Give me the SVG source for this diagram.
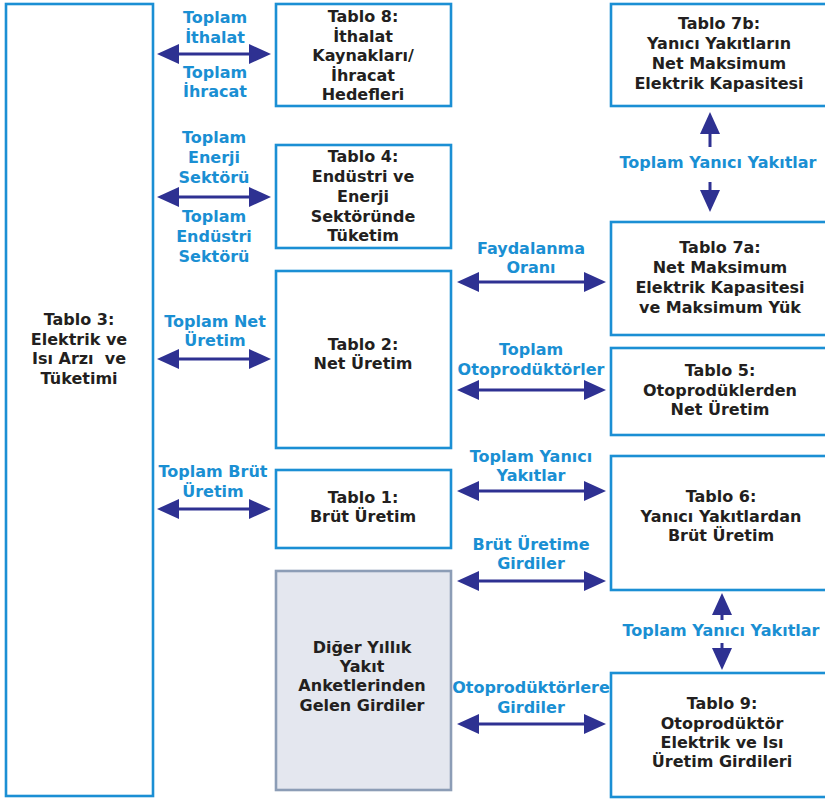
<svg xmlns="http://www.w3.org/2000/svg" width="825" height="799" viewBox="0 0 825 799">
  <style>
    .box { fill: #ffffff; stroke: #1b8fd4; stroke-width: 2.6; }
    .gray { fill: #e4e7ef; stroke: #8c9db6; stroke-width: 2.6; }
    .t { font-family: "DejaVu Sans", "Liberation Sans", sans-serif; font-weight: bold; font-size: 16px; text-anchor: middle; fill: #231f20; }
    .lbl { font-family: "DejaVu Sans", "Liberation Sans", sans-serif; font-weight: bold; font-size: 16px; text-anchor: middle; fill: #1a8fd3; }
    .arr { stroke: #2e3192; stroke-width: 3; fill: none; marker-start: url(#ah); marker-end: url(#ah); }
    .one { stroke: #2e3192; stroke-width: 3; fill: none; marker-end: url(#ah); }
  </style>
  <defs>
    <marker id="ah" viewBox="0 0 22 20" refX="12" refY="10" markerWidth="22" markerHeight="20" markerUnits="userSpaceOnUse" orient="auto-start-reverse">
      <path d="M0,0 L22,10 L0,20 z" fill="#2e3192"/>
    </marker>
  </defs>

  <rect width="825" height="799" fill="#ffffff"/>

  <g id="connectors">
    <!-- left column links -->
    <line class="arr" x1="167" y1="54" x2="261" y2="54"/>
    <line class="arr" x1="167" y1="197" x2="261" y2="197"/>
    <line class="arr" x1="167" y1="359" x2="261" y2="359"/>
    <line class="arr" x1="167" y1="509" x2="261" y2="509"/>
    <!-- right column links -->
    <line class="arr" x1="467" y1="282" x2="596" y2="282"/>
    <line class="arr" x1="467" y1="390" x2="596" y2="390"/>
    <line class="arr" x1="467" y1="491" x2="596" y2="491"/>
    <line class="arr" x1="467" y1="581" x2="596" y2="581"/>
    <line class="arr" x1="467" y1="724" x2="596" y2="724"/>
    <!-- vertical links -->
    <line class="one" x1="710" y1="147" x2="710" y2="122"/>
    <line class="one" x1="710" y1="182" x2="710" y2="202"/>
    <line class="one" x1="722" y1="620" x2="722" y2="603"/>
    <line class="one" x1="722" y1="643" x2="722" y2="660"/>

    <g id="labels">
      <text class="lbl" x="215" y="23">Toplam</text>
      <text class="lbl" x="215" y="43">İthalat</text>
      <text class="lbl" x="215" y="78">Toplam</text>
      <text class="lbl" x="215" y="97">İhracat</text>

      <text class="lbl" x="214" y="143">Toplam</text>
      <text class="lbl" x="214" y="163">Enerji</text>
      <text class="lbl" x="214" y="183">Sektörü</text>
      <text class="lbl" x="214" y="222">Toplam</text>
      <text class="lbl" x="214" y="242">Endüstri</text>
      <text class="lbl" x="214" y="262">Sektörü</text>

      <text class="lbl" x="215" y="327">Toplam Net</text>
      <text class="lbl" x="215" y="346">Üretim</text>

      <text class="lbl" x="213" y="477">Toplam Brüt</text>
      <text class="lbl" x="213" y="497">Üretim</text>

      <text class="lbl" x="531" y="254">Faydalanma</text>
      <text class="lbl" x="531" y="273">Oranı</text>
      <text class="lbl" x="531" y="355">Toplam</text>
      <text class="lbl" x="531" y="375">Otoprodüktörler</text>
      <text class="lbl" x="531" y="462">Toplam Yanıcı</text>
      <text class="lbl" x="531" y="481">Yakıtlar</text>
      <text class="lbl" x="531" y="550">Brüt Üretime</text>
      <text class="lbl" x="531" y="569">Girdiler</text>
      <text class="lbl" x="531" y="693">Otoprodüktörlere</text>
      <text class="lbl" x="531" y="713">Girdiler</text>

      <text class="lbl" x="718" y="168">Toplam Yanıcı Yakıtlar</text>
      <text class="lbl" x="721" y="636">Toplam Yanıcı Yakıtlar</text>
    </g>
  </g>

  <g id="tablo3">
    <rect class="box" x="6" y="4" width="147" height="792"/>
    <text class="t" x="79" y="325">Tablo 3:</text>
    <text class="t" x="79" y="344.5">Elektrik ve</text>
    <text class="t" x="79" y="364" xml:space="preserve">Isı Arzı  ve</text>
    <text class="t" x="79" y="383.5">Tüketimi</text>
  </g>

  <g id="tablo8">
    <rect class="box" x="276" y="4" width="175" height="102"/>
    <text class="t" x="363" y="22">Tablo 8:</text>
    <text class="t" x="363" y="42">İthalat</text>
    <text class="t" x="363" y="61">Kaynakları/</text>
    <text class="t" x="363" y="81">İhracat</text>
    <text class="t" x="363" y="100">Hedefleri</text>
  </g>

  <g id="tablo4">
    <rect class="box" x="276" y="145" width="175" height="103"/>
    <text class="t" x="363" y="162">Tablo 4:</text>
    <text class="t" x="363" y="182">Endüstri ve</text>
    <text class="t" x="363" y="202">Enerji</text>
    <text class="t" x="363" y="222">Sektöründe</text>
    <text class="t" x="363" y="241">Tüketim</text>
  </g>

  <g id="tablo2">
    <rect class="box" x="276" y="271" width="175" height="177"/>
    <text class="t" x="363" y="350">Tablo 2:</text>
    <text class="t" x="363" y="369">Net Üretim</text>
  </g>

  <g id="tablo1">
    <rect class="box" x="276" y="470" width="175" height="78"/>
    <text class="t" x="363" y="503">Tablo 1:</text>
    <text class="t" x="363" y="522">Brüt Üretim</text>
  </g>

  <g id="diger">
    <rect class="gray" x="276" y="571" width="175" height="219"/>
    <text class="t" x="362" y="653">Diğer Yıllık</text>
    <text class="t" x="362" y="672">Yakıt</text>
    <text class="t" x="362" y="691">Anketlerinden</text>
    <text class="t" x="362" y="711">Gelen Girdiler</text>
  </g>

  <g id="tablo7b">
    <rect class="box" x="611" y="4" width="222" height="102"/>
    <text class="t" x="719" y="29">Tablo 7b:</text>
    <text class="t" x="719" y="49">Yanıcı Yakıtların</text>
    <text class="t" x="719" y="69">Net Maksimum</text>
    <text class="t" x="719" y="89">Elektrik Kapasitesi</text>
  </g>

  <g id="tablo7a">
    <rect class="box" x="611" y="222" width="222" height="113"/>
    <text class="t" x="720" y="253">Tablo 7a:</text>
    <text class="t" x="720" y="273">Net Maksimum</text>
    <text class="t" x="720" y="293">Elektrik Kapasitesi</text>
    <text class="t" x="720" y="313">ve Maksimum Yük</text>
  </g>

  <g id="tablo5">
    <rect class="box" x="611" y="348" width="222" height="87"/>
    <text class="t" x="720" y="376">Tablo 5:</text>
    <text class="t" x="720" y="396">Otoprodüklerden</text>
    <text class="t" x="720" y="415">Net Üretim</text>
  </g>

  <g id="tablo6">
    <rect class="box" x="611" y="456" width="222" height="134"/>
    <text class="t" x="721" y="502">Tablo 6:</text>
    <text class="t" x="721" y="522">Yanıcı Yakıtlardan</text>
    <text class="t" x="721" y="541">Brüt Üretim</text>
  </g>

  <g id="tablo9">
    <rect class="box" x="611" y="673" width="222" height="124"/>
    <text class="t" x="722" y="709">Tablo 9:</text>
    <text class="t" x="722" y="729">Otoprodüktör</text>
    <text class="t" x="722" y="748">Elektrik ve Isı</text>
    <text class="t" x="722" y="767">Üretim Girdileri</text>
  </g>
</svg>
